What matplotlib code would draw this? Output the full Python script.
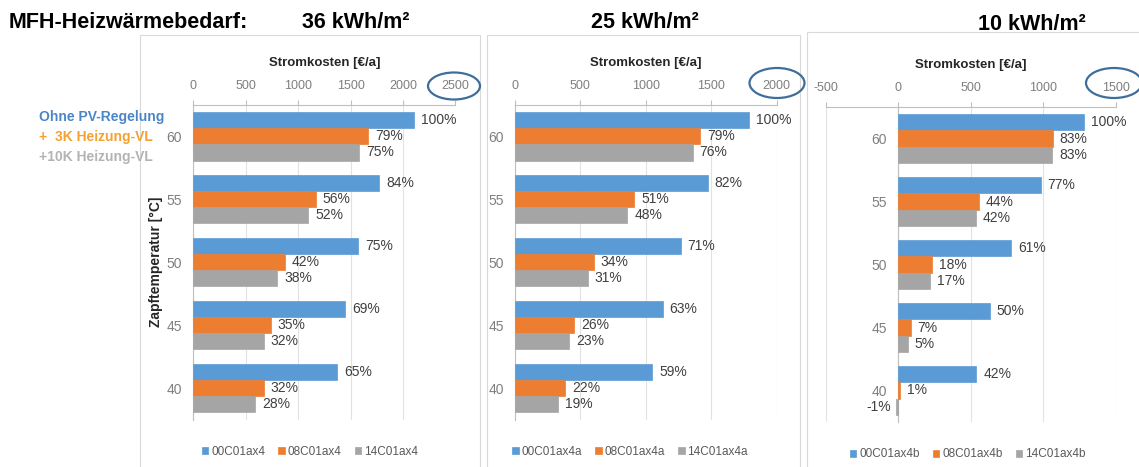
import numpy as np
import matplotlib
matplotlib.use("Agg")
from matplotlib import pyplot as plt
from matplotlib.patches import Ellipse, Rectangle

# --- data ---
temps = [60, 55, 50, 45, 40]

p1_names = ["00C01ax4", "08C01ax4", "14C01ax4"]
p1_blue = [2110, 1775, 1575, 1450, 1370]
p1_orange = [1670, 1170, 875, 740, 670]
p1_grey = [1585, 1095, 800, 670, 590]
p1_blue_pct = ["100%", "84%", "75%", "69%", "65%"]
p1_orange_pct = ["79%", "56%", "42%", "35%", "32%"]
p1_grey_pct = ["75%", "52%", "38%", "32%", "28%"]

p2_names = ["00C01ax4a", "08C01ax4a", "14C01ax4a"]
p2_blue = [1786, 1472, 1267, 1129, 1047]
p2_orange = [1414, 910, 602, 453, 385]
p2_grey = [1358, 859, 556, 415, 331]
p2_blue_pct = ["100%", "82%", "71%", "63%", "59%"]
p2_orange_pct = ["79%", "51%", "34%", "26%", "22%"]
p2_grey_pct = ["76%", "48%", "31%", "23%", "19%"]

p3_names = ["00C01ax4b", "08C01ax4b", "14C01ax4b"]
p3_blue = [1282, 983, 780, 633, 539]
p3_orange = [1066, 557, 233, 85, 13]
p3_grey = [1064, 536, 219, 66, -13]
p3_blue_pct = ["100%", "77%", "61%", "50%", "42%"]
p3_orange_pct = ["83%", "44%", "18%", "7%", "1%"]
p3_grey_pct = ["83%", "42%", "17%", "5%", "-1%"]

COLORS = ["#5b9bd5", "#ed7d31", "#a5a5a5"]
FONT = ["Liberation Sans", "DejaVu Sans"]

W, H = 1139, 467


def fx(px):
    return px / W


def fy(py):
    return 1 - py / H


def draw_panel(ax, series, pcts, names, xlim, ticks, legend_x):
    # spine position first: moving it resets the tick labels
    for s in ["right", "bottom"]:
        ax.spines[s].set_visible(False)
    ax.spines["left"].set_position(("data", 0))
    ax.spines["top"].set_color("#bfbfbf")
    ax.spines["left"].set_color("#bfbfbf")

    y = np.arange(len(temps))[::-1].astype(float)
    bh = 0.255
    offsets = [bh, 0, -bh]
    for vals, labels, off, col, name in zip(series, pcts, offsets, COLORS, names):
        ax.barh(y + off, vals, height=bh, color=col, label=name, zorder=3,
                edgecolor=col, linewidth=0.5)
        for v, yy, lab in zip(vals, y + off, labels):
            if v >= 0:
                ax.annotate(lab, (v, yy), xytext=(5, 0), textcoords="offset points",
                            ha="left", va="center", fontsize=10, color="#404040",
                            family=FONT)
            else:
                ax.annotate(lab, (v, yy), xytext=(-4, 0), textcoords="offset points",
                            ha="right", va="center", fontsize=10, color="#404040",
                            family=FONT)

    ax.set_xlim(*xlim)
    ax.set_ylim(-0.5, len(temps) - 0.5)
    ax.xaxis.set_ticks_position("top")
    ax.xaxis.set_label_position("top")
    ax.set_xticks(ticks)
    ax.set_xticklabels([str(t) for t in ticks], family=FONT, fontsize=9, color="#7f7f7f")
    ax.set_yticks(y)
    ax.set_yticklabels([str(t) for t in temps], family=FONT, fontsize=10, color="#7f7f7f")

    ax.tick_params(axis="x", direction="out", length=3.5, width=0.8, color="#bfbfbf", pad=6)
    ax.tick_params(axis="y", length=0, pad=8)
    ax.set_xlabel("Stromkosten [€/a]", family=FONT, fontsize=9.5, fontweight="bold",
                  color="#262626", labelpad=10)

    ax.grid(axis="x", color="#e2e2e2", linewidth=0.8, zorder=0)
    ax.set_axisbelow(True)
    ax.set_facecolor("none")

    ax.legend(loc="center", bbox_to_anchor=(legend_x, -0.103), ncol=3, frameon=False,
              handlelength=0.55, handleheight=0.55, handletextpad=0.25, columnspacing=1.1,
              prop={"family": FONT, "size": 8.5}, labelcolor="#595959")


fig = plt.figure(figsize=(W / 100, H / 100), dpi=100)

# light chart-area borders
for x0, x1, y0 in [(140, 480, 35), (487, 800, 35), (807, 1150, 32)]:
    fig.add_artist(Rectangle((fx(x0), -0.05), fx(x1 - x0), fy(y0) + 0.05,
                             transform=fig.transFigure, fill=False,
                             edgecolor="#d9d9d9", linewidth=0.8))

ax1 = fig.add_axes([fx(193.3), fy(419.5), fx(262), 314.5 / H])
ax2 = fig.add_axes([fx(515), fy(419.5), fx(261.7), 314.5 / H])
ax3 = fig.add_axes([fx(825.7), fy(422), fx(290), 315 / H])

draw_panel(ax1, [p1_blue, p1_orange, p1_grey], [p1_blue_pct, p1_orange_pct, p1_grey_pct],
           p1_names, (0, 2500), [0, 500, 1000, 1500, 2000, 2500], 0.445)
draw_panel(ax2, [p2_blue, p2_orange, p2_grey], [p2_blue_pct, p2_orange_pct, p2_grey_pct],
           p2_names, (0, 2000), [0, 500, 1000, 1500, 2000], 0.44)
draw_panel(ax3, [p3_blue, p3_orange, p3_grey], [p3_blue_pct, p3_orange_pct, p3_grey_pct],
           p3_names, (-500, 1500), [-500, 0, 500, 1000, 1500], 0.49)

ax1.set_ylabel("Zapftemperatur [°C]", family=FONT, fontsize=10, fontweight="bold",
               color="#262626", labelpad=3)

# titles
fig.text(fx(9), fy(22), "MFH-Heizwärmebedarf:", family=FONT, fontsize=15.5,
         fontweight="bold", va="center", ha="left")
fig.text(fx(356), fy(22), "36 kWh/m²", family=FONT, fontsize=15.5, fontweight="bold",
         va="center", ha="center")
fig.text(fx(645), fy(22), "25 kWh/m²", family=FONT, fontsize=15.5, fontweight="bold",
         va="center", ha="center")
fig.text(fx(1032), fy(25), "10 kWh/m²", family=FONT, fontsize=15.5, fontweight="bold",
         va="center", ha="center")

# left annotation
fig.text(fx(39), fy(117), "Ohne PV-Regelung", family=FONT, fontsize=10,
         fontweight="bold", color="#4a86c6", va="center")
fig.text(fx(39), fy(137), "+  3K Heizung-VL", family=FONT, fontsize=10,
         fontweight="bold", color="#f5a030", va="center")
fig.text(fx(39), fy(157), "+10K Heizung-VL", family=FONT, fontsize=10,
         fontweight="bold", color="#b3b3b3", va="center")

# ellipses round the axis maxima
for cx, cy, w, h in [(454, 86, 52, 27), (777, 83, 55, 30), (1114, 83, 56, 30)]:
    fig.add_artist(Ellipse((fx(cx), fy(cy)), fx(w), h / H, transform=fig.transFigure,
                           fill=False, edgecolor="#3f6e9c", linewidth=1.6))

fig.savefig("out.png", dpi=100)
